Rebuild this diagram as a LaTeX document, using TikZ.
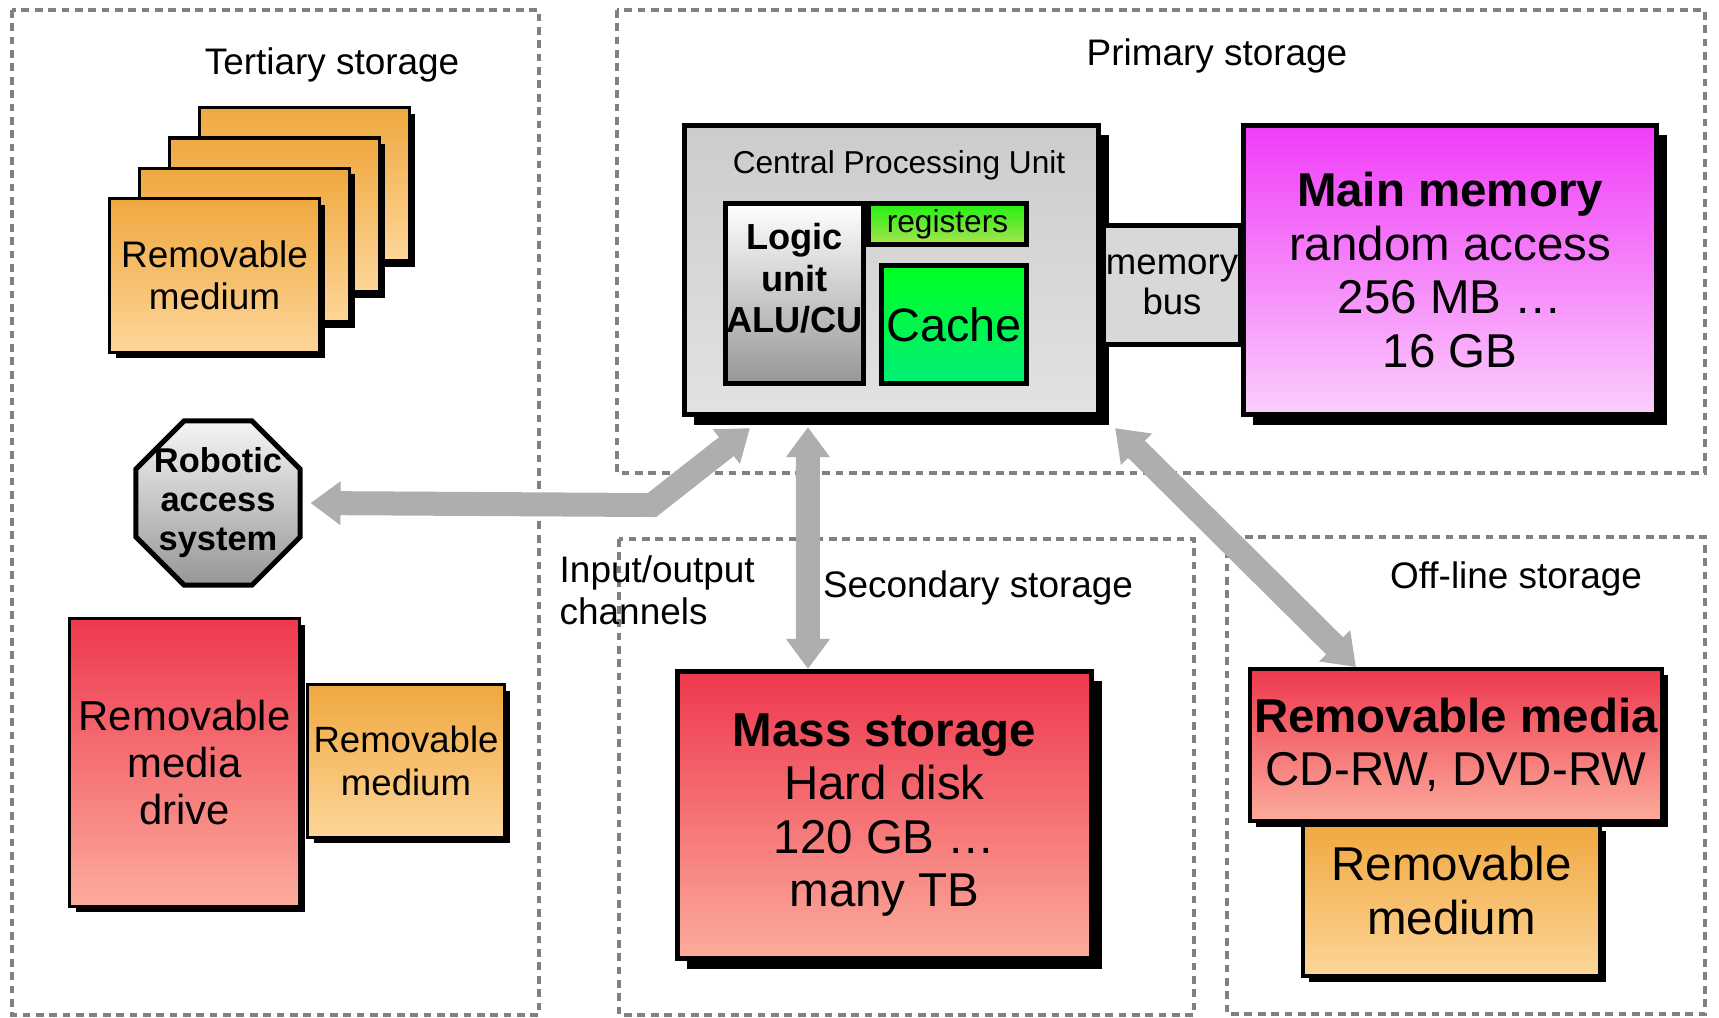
\documentclass[tikz,border=0pt]{standalone}
\usepackage{fontspec}
\setmainfont{Liberation Sans}
\usetikzlibrary{arrows.meta,shapes.geometric,shadows}

\definecolor{mediumtop}{RGB}{240,168,64}
\definecolor{mediumbot}{RGB}{253,214,153}
\definecolor{drivetop}{RGB}{238,56,78}
\definecolor{drivebot}{RGB}{252,172,156}
\definecolor{memtop}{RGB}{240,60,248}
\definecolor{membot}{RGB}{251,206,252}
\definecolor{cputop}{RGB}{204,204,204}
\definecolor{cpubot}{RGB}{226,226,226}
\definecolor{regtop}{RGB}{34,240,17}
\definecolor{regbot}{RGB}{170,228,80}
\definecolor{cachetop}{RGB}{0,255,34}
\definecolor{cachebot}{RGB}{0,238,119}
\definecolor{arrowgray}{RGB}{174,174,174}
\definecolor{busgray}{RGB}{216,216,216}
\definecolor{framegray}{RGB}{128,128,128}

\begin{document}
\begin{tikzpicture}[x=0.01cm,y=-0.01cm,>={Triangle[width=0.42cm,length=0.3cm]}]
      \tikzstyle{region}=[draw=framegray,line width=1pt,dash pattern=on 2.2pt off 1.6pt]
      \tikzstyle{box}=[draw,rectangle,inner sep=0pt,align=center]
      \tikzstyle{bigshadow}=[general shadow={fill=black,shadow xshift=0.1cm,shadow yshift=-0.1cm}]
      \tikzstyle{smallshadow}=[general shadow={fill=black,shadow xshift=0.06cm,shadow yshift=-0.06cm}]
      \tikzstyle{medium}=[box,line width=0.035cm,top color=mediumtop,bottom color=mediumbot,smallshadow]
      \tikzstyle{drive}=[box,top color=drivetop,bottom color=drivebot]
      \tikzstyle{bigtext}=[font=\fontsize{13.5pt}{15.2pt}\selectfont]
      \tikzstyle{midtext}=[font=\fontsize{10.5pt}{12pt}\selectfont]
      \tikzstyle{smalltext}=[font=\fontsize{9pt}{10.5pt}\selectfont]
      \tikzstyle{channel}=[<->,draw=arrowgray,line width=0.24cm,line join=miter]
      \useasboundingbox (0,0) rectangle (1719,1017);

        \path[region] (12,10) rectangle (539,1015);
        \path[region] (617,10) rectangle (1705,473);
        \path[region] (619,539) rectangle (1194,1015);
        \path[region] (1227,537) rectangle (1705,1014);

        \path (332,65) node[midtext] (tertiary) {Tertiary storage};
        \path (1217,56) node[midtext] (primary) {Primary storage};
        \path (978,588) node[midtext] (secondary) {Secondary storage};
        \path (1516,579) node[midtext] (offline) {Off-line storage};
        \path (559,590) node[midtext,anchor=west,align=left,inner sep=0pt] (iolabel) {Input/output\\channels};

        \foreach \i in {3,2,1}
          \path ({214.5+30*\i},{275.5-30.4*\i}) node[medium,minimum width=2.095cm,minimum height=1.535cm] (card\i) {};
        \path (214.5,275.5) node[medium,midtext,minimum width=2.095cm,minimum height=1.535cm] (card0) {Removable\\medium};

        \path (218,503) node[draw,regular polygon,regular polygon sides=8,minimum size=1.775cm,inner sep=0pt,
              line width=0.05cm,top color=black!4,bottom color=black!41,
              label={[font=\fontsize{9.8pt}{11.1pt}\selectfont\bfseries,align=center]center:{Robotic\\access\\system}}] (robotic) {};

        \path (184.5,762.5) node[drive,line width=0.035cm,smallshadow,minimum width=2.295cm,minimum height=2.875cm,
              font=\fontsize{11.9pt}{13.4pt}\selectfont] (drive) {Removable\\media\\drive};
        \path (406,761) node[medium,minimum width=1.965cm,minimum height=1.525cm,
              font=\fontsize{10.4pt}{12.2pt}\selectfont] (sidemedium) {Removable\\medium};

        \path (891.5,270) node[box,line width=0.05cm,top color=cputop,bottom color=cpubot,bigshadow,
              minimum width=4.14cm,minimum height=2.89cm] (cpu) {};
        \path (899,165) node[smalltext] (cputitle) {Central Processing Unit};
        \path (794.5,293.5) node[box,line width=0.05cm,top color=white,bottom color=black!41,
              minimum width=1.38cm,minimum height=1.8cm,
              label={[font=\fontsize{10.3pt}{11.8pt}\selectfont\bfseries,align=center,yshift=0.15cm]center:{Logic\\unit\\ALU/CU}}] (logic) {};
        \path (947.5,224) node[box,smalltext,line width=0.05cm,top color=regtop,bottom color=regbot,
              minimum width=1.58cm,minimum height=0.41cm] (registers) {registers};
        \path (954,324.5) node[box,line width=0.05cm,top color=cachetop,bottom color=cachebot,
              minimum width=1.45cm,minimum height=1.18cm,font=\fontsize{13.3pt}{15pt}\selectfont] (cache) {Cache};

        \path (1172,285) node[box,line width=0.05cm,fill=busgray,minimum width=1.37cm,minimum height=1.19cm,
              font=\fontsize{10.4pt}{11.4pt}\selectfont] (bus) {memory\\bus};
        \path (1450,270) node[box,bigtext,line width=0.05cm,top color=memtop,bottom color=membot,bigshadow,
              minimum width=4.13cm,minimum height=2.89cm] (mainmem) {\textbf{Main memory}\\random access\\256 MB …\\16 GB};

        \path (884.5,815) node[drive,bigtext,line width=0.05cm,bigshadow,minimum width=4.14cm,minimum height=2.87cm] (mass)
              {\textbf{Mass storage}\\Hard disk\\120 GB …\\many TB};

        \path (1451.5,900.5) node[medium,line width=0.04cm,minimum width=2.97cm,minimum height=1.51cm,
              label={[bigtext,align=center,yshift=0.1cm]center:{Removable\\medium}}] (offmedium) {};
        \path (1456,745) node[drive,bigtext,line width=0.04cm,smallshadow,minimum width=4.12cm,minimum height=1.52cm] (offmedia)
              {\textbf{Removable media}\\CD-RW, DVD-RW};

        \coordinate (bend) at (652,505);
        \path[channel] ([xshift=-1.415cm,yshift=-0.11cm]cpu.south) -- (bend) -- ([xshift=0.08cm]robotic.east);
        \path[channel] ([xshift=-0.835cm,yshift=-0.1cm]cpu.south) -- ([xshift=-0.765cm]mass.north);
        \path[channel] ([xshift=0.14cm,yshift=-0.11cm]cpu.south east) -- ([xshift=-1cm]offmedia.north);
    \end{tikzpicture}
\end{document}
